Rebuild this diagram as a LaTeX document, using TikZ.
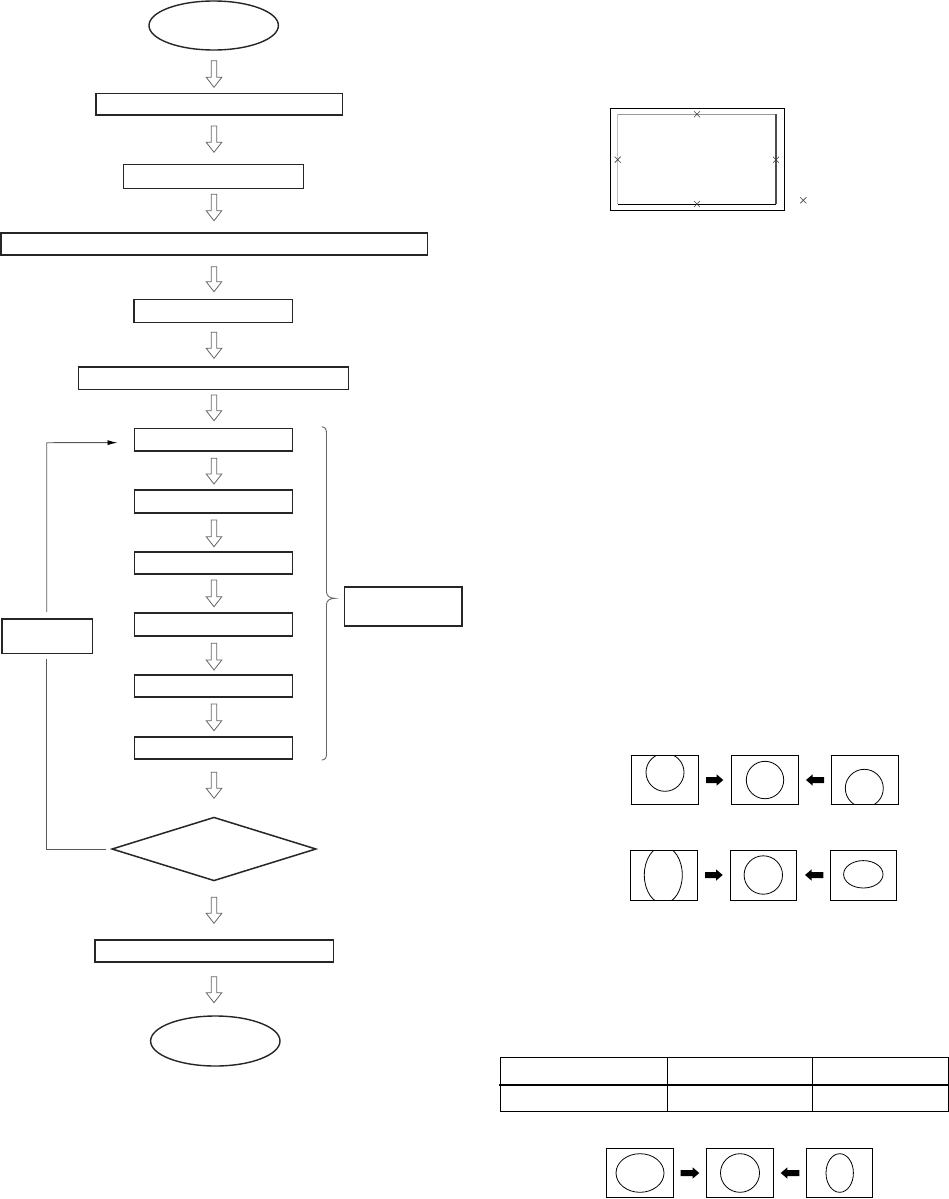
\documentclass[tikz,border=0pt]{standalone}
\usetikzlibrary{shapes.geometric,arrows.meta,calc}
\tikzset{
  flowbox/.style={draw=black!85, line width=1.6pt, rectangle, inner sep=0pt},
  termbox/.style={draw=black!85, line width=1.4pt, ellipse, inner sep=0pt},
  decbox/.style={draw=black!85, line width=1.5pt, diamond, inner sep=0pt},
  hollow/.style={draw=black!60, line width=0.8pt, fill=white, line join=miter},
  loopline/.style={draw=black!65, line width=0.9pt},
  bracepath/.style={draw=black!60, line width=0.9pt},
  thinframe/.style={draw=black, line width=1.1pt},
  crossmark/.style={draw=black!75, line width=0.6pt},
  shapeline/.style={draw=black, line width=0.8pt},
  solidarrow/.style={fill=black, draw=none},
  tableline/.style={draw=black, line width=1.2pt}
}
% box from corners (left, top, right, bottom)
\newcommand\mkbox[6][flowbox]{\node[#1, minimum width={#5pt-#3pt}, minimum height={#6pt-#4pt}] (#2) at ({(#3+#5)/2},{(#4+#6)/2}) {};}
% hollow down arrow: x, top y, tip y
\newcommand\HArrow[3]{\draw[hollow] ({#1-2.8},#2) -- ({#1-2.8},{#3-10}) -- ({#1-7.8},{#3-10}) -- (#1,#3) -- ({#1+7.8},{#3-10}) -- ({#1+2.8},{#3-10}) -- ({#1+2.8},#2) -- cycle;}
% solid right arrow: tail x, tip x, y
\newcommand\RArrow[3]{\fill[solidarrow] (#1,{#3-3}) -- ({#2-6.7},{#3-3}) -- ({#2-6.7},{#3-5.7}) -- (#2,#3) -- ({#2-6.7},{#3+5.7}) -- ({#2-6.7},{#3+3}) -- (#1,{#3+3}) -- cycle;}
% solid left arrow: tip x, tail x, y
\newcommand\LArrow[3]{\fill[solidarrow] (#2,{#3-3}) -- ({#1+6.7},{#3-3}) -- ({#1+6.7},{#3-5.7}) -- (#1,#3) -- ({#1+6.7},{#3+5.7}) -- ({#1+6.7},{#3+3}) -- (#2,{#3+3}) -- cycle;}
\newcommand\Cross[2]{\draw[crossmark] ({#1-3},{#2-3}) -- ({#1+3},{#2+3}) ({#1-3},{#2+3}) -- ({#1+3},{#2-3});}
\begin{document}
\begin{tikzpicture}[x=1pt,y=-1pt]
\useasboundingbox (0,0) rectangle (949,1199);
\fill[white] (0,0) rectangle (949,1199);

% ---------------- flowchart ----------------
\node[termbox, minimum width=129.4pt, minimum height=49pt] (start) at (213.7,25.5) {};
\mkbox{b1}{95.7}{93.3}{342.3}{115}
\mkbox{b2}{123.3}{164.3}{303.3}{188.3}
\mkbox{b3}{1}{232.7}{427.3}{255}
\mkbox{b4}{134}{299.3}{292.3}{322.3}
\mkbox{b5}{78.3}{366.7}{348.3}{389.3}
\mkbox{b6}{134.3}{428.3}{292.3}{451}
\mkbox{b7}{134.3}{489.7}{292.3}{513}
\mkbox{b8}{134.3}{551.7}{292.3}{574}
\mkbox{b9}{134.3}{612.7}{292.3}{636}
\mkbox{b10}{134.3}{675}{292.3}{697}
\mkbox{b11}{134.3}{736.7}{292.3}{759}
\node[decbox, minimum width=204.3pt, minimum height=63.7pt] (dec) at (214,849) {};
\mkbox{b12}{95}{940}{333.3}{962}
\node[termbox, minimum width=129.4pt, minimum height=50pt] (stop) at (215.3,1041) {};
\mkbox{rbox}{344.3}{586.7}{461.7}{626}
\mkbox{lbox}{2}{619}{92.3}{653.3}

\HArrow{214}{60.7}{87.3}
\HArrow{214}{126}{152.3}
\HArrow{214}{194.3}{220.7}
\HArrow{214}{266.7}{291.7}
\HArrow{214}{332.3}{358.3}
\HArrow{214}{395}{420.7}
\HArrow{214}{458.3}{484}
\HArrow{214}{520}{546.7}
\HArrow{214}{580}{606.7}
\HArrow{214}{643.3}{670}
\HArrow{214}{704}{730.7}
\HArrow{214}{772.3}{798.3}
\HArrow{214}{897.3}{923.3}
\HArrow{214}{976.7}{1002.7}

% loop back
\coordinate (lp) at (46.7,442.7);
\draw[loopline] ([xshift=-5pt]dec.west) -| ([yshift=-5pt]lbox.south -| lp);
\draw[loopline, -{Latex[length=10pt,width=5pt,black]}] ([yshift=6pt]lbox.north -| lp) -- (lp) -- ($(b6.west)+(-16,3)$);

% brace
\draw[bracepath] (321.7,426.7) .. controls (325,427) and (326.5,429) .. (326.5,433)
  -- (326.5,592) .. controls (326.5,596) and (330,598.3) .. (335,598.3)
  .. controls (330,598.3) and (326.5,600.5) .. (326.5,604.5)
  -- (326.5,754) .. controls (326.5,758) and (325,760) .. (321.7,760);

% ---------------- top-right frame ----------------
\draw[thinframe] (610.7,108.3) rectangle (784.3,210.7);
\draw[line width=1.2pt, black!40] (617.7,114.3) -- (776,114.3);
\draw[line width=1.2pt, black!25] (617.7,114.3) -- (617.7,204);
\draw[line width=1.2pt, black!70] (776,114.3) -- (776,204);
\draw[line width=1.0pt, black] (617.7,204) -- (776,204);
\Cross{697}{114.3}
\Cross{617.7}{159.7}
\Cross{776}{159.7}
\Cross{697}{204}
\Cross{803.3}{200.3}

% ---------------- circle figures ----------------
% row 1
\begin{scope}\clip (631.7,755) rectangle (698.3,804.3); \draw[shapeline] (665,772.3) circle[radius=19]; \end{scope}
\draw[line width=1pt] (631.7,755) rectangle (698.3,804.3);
\draw[shapeline] (765,780) circle[radius=18.7];
\draw[line width=1pt] (731.7,755) rectangle (798.3,804.3);
\begin{scope}\clip (831.7,755) rectangle (898.3,804.3); \draw[shapeline] (864.3,788.3) circle[radius=19]; \end{scope}
\draw[line width=1pt] (831.7,755) rectangle (898.3,804.3);
\RArrow{706}{723.3}{780}
\LArrow{806}{824}{780}

% row 2
\begin{scope}\clip (630.7,850) rectangle (697.3,900); \draw[shapeline] (663.3,875) ellipse[x radius=19, y radius=28.5]; \end{scope}
\draw[line width=1pt] (630.7,850) rectangle (697.3,900);
\draw[shapeline] (763.3,875) circle[radius=19.2];
\draw[line width=1pt] (730,850) rectangle (796.7,900);
\draw[shapeline] (863.3,874.3) ellipse[x radius=19.7, y radius=13.7];
\draw[line width=1pt] (830,850) rectangle (896.7,900);
\RArrow{705}{722.7}{875}
\LArrow{805}{823.3}{875}

% table
\draw[tableline] (500.7,1057.3) rectangle (948.2,1111.7);
\draw[tableline] (499.3,1085) -- (948.2,1085);
\draw[tableline] (667.7,1057.3) -- (667.7,1111.7);
\draw[tableline] (812.7,1057.3) -- (812.7,1111.7);

% row 3
\draw[shapeline] (640,1173) ellipse[x radius=24, y radius=19.3];
\draw[line width=1pt] (606,1148) rectangle (673,1197.5);
\draw[shapeline] (740,1173) ellipse[x radius=19.5, y radius=19.3];
\draw[line width=1pt] (706.7,1148) rectangle (773.3,1197.5);
\draw[shapeline] (839.7,1173) ellipse[x radius=13.7, y radius=19.3];
\draw[line width=1pt] (806,1148) rectangle (872.3,1197.5);
\RArrow{680.7}{699.3}{1173}
\LArrow{780.7}{799.3}{1173}
\end{tikzpicture}
\end{document}
